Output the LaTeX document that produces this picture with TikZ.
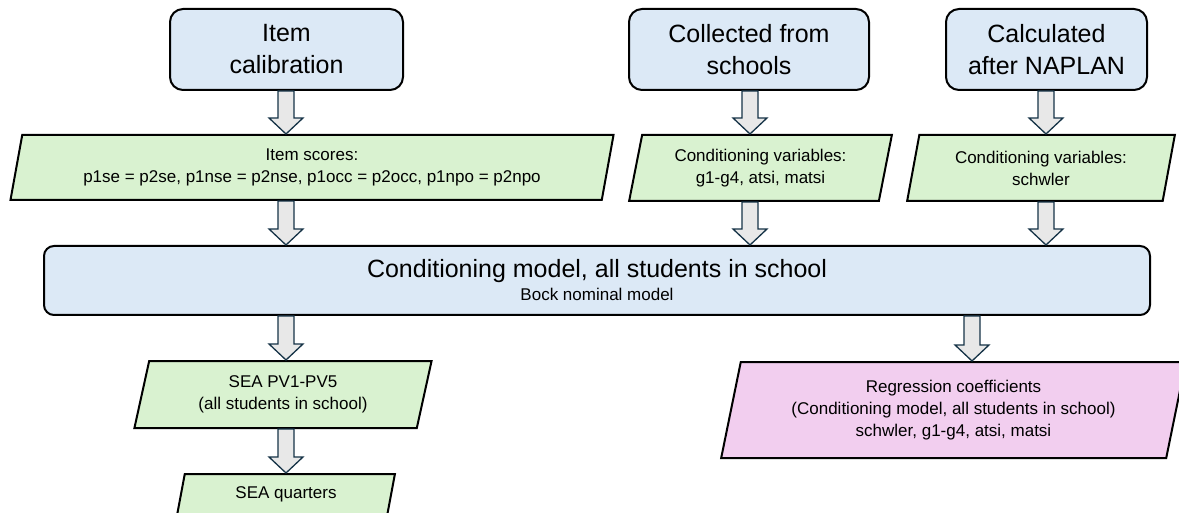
\documentclass[tikz,border=0pt]{standalone}
\usepackage{fontspec}
\setmainfont{Liberation Sans}
\usepackage{xcolor}
\usepackage{tikz}
\usetikzlibrary{shapes.geometric,calc}

\definecolor{boxblue}{HTML}{DCE9F6}
\definecolor{boxgreen}{HTML}{D9F2D0}
\definecolor{boxpink}{HTML}{F2CEEF}
\definecolor{arrowfill}{HTML}{E8E8E8}
\definecolor{arrowline}{HTML}{163347}

\newcommand{\bigtext}{\fontsize{25}{32}\selectfont}
\newcommand{\smalltext}{\fontsize{17}{22}\selectfont}

% hollow block arrow at x=#1 from node #2 down to node #3
\newcommand{\blockarrow}[3]{%
\path[blockarrow] let \p1=(#2.south), \p2=(#3.north) in
 ({#1pt-8pt},\y1)--({#1pt+8pt},\y1)--({#1pt+8pt},\y2+16pt)--({#1pt+17pt},\y2+16pt)
 --(#1pt,\y2)--({#1pt-17pt},\y2+16pt)--({#1pt-8pt},\y2+16pt)--cycle;
}

\begin{document}
\begin{tikzpicture}[x=1pt, y=-1pt,
  source/.style={draw, line width=2pt, fill=boxblue, rounded corners=13pt, inner sep=0pt, align=center, font=\bigtext},
  data/.style={trapezium, trapezium left angle=76, trapezium right angle=104, trapezium stretches=true,
    draw, line width=2pt, fill=boxgreen, inner sep=0pt, align=center, font=\smalltext},
  blockarrow/.style={draw=arrowline, line width=1.3pt, fill=arrowfill, line join=miter}]

\useasboundingbox (0,0) rectangle (1179,513);
\clip (0,0) rectangle (1179,513);

\node[source, minimum width=233pt, minimum height=81pt] (calib) at (286.5,49.5) {Item\\calibration};
\node[source, minimum width=240pt, minimum height=81pt] (collect) at (749,49.5) {Collected from\\schools};
\node[source, minimum width=201pt, minimum height=81pt] (naplan) at (1046.5,49.5) {Calculated\\after NAPLAN};

\node[data, minimum width=606pt, minimum height=65pt] (scores) at (312,167.5) {Item scores:\\p1se = p2se, p1nse = p2nse, p1occ = p2occ, p1npo = p2npo};
\node[data, minimum width=263pt, minimum height=66pt] (condschool) at (760.5,168) {Conditioning variables:\\g1-g4, atsi, matsi};
\node[data, minimum width=268pt, minimum height=66pt] (condnaplan) at (1041,168) {Conditioning variables:\\schwler};

\node[source, minimum width=1106pt, minimum height=69pt, rounded corners=10pt] (model) at (597,280.5)
  {Conditioning model, all students in school\\[-9pt]{\smalltext Bock nominal model}};

\node[data, minimum width=298pt, minimum height=67pt] (pv) at (283,394.5) {SEA PV1-PV5\\(all students in school)};
\node[data, minimum width=218pt, minimum height=41pt] (quarters) at (286,494.5) {SEA quarters};
\node[data, fill=boxpink, minimum width=465pt, minimum height=96pt] (regress) at (953.5,410)
  {Regression coefficients\\(Conditioning model, all students in school)\\schwler, g1-g4, atsi, matsi};

\blockarrow{286}{calib}{scores}
\blockarrow{750}{collect}{condschool}
\blockarrow{1046}{naplan}{condnaplan}
\blockarrow{286}{scores}{model}
\blockarrow{750}{condschool}{model}
\blockarrow{1046}{condnaplan}{model}
\blockarrow{286}{model}{pv}
\blockarrow{972}{model}{regress}
\blockarrow{286}{pv}{quarters}

\end{tikzpicture}
\end{document}
